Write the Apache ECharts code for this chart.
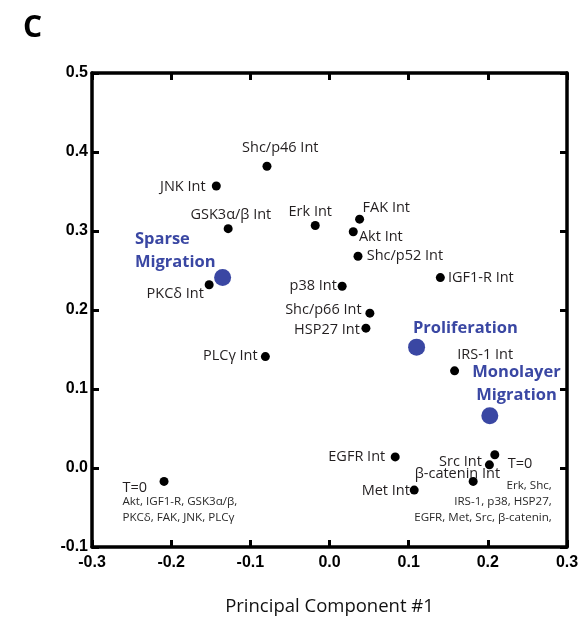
<!DOCTYPE html>
<html>
<head>
<meta charset="utf-8">
<script src="https://cdn.jsdelivr.net/npm/echarts@6/dist/echarts.min.js"></script>
<style>
html,body{margin:0;padding:0;background:#fff;}
#chart{width:583px;height:621px;}
</style>
</head>
<body>
<div id="chart"></div>
<script>
// ---- data ----
const xTicks = [-0.3, -0.2, -0.1, 0.0, 0.1, 0.2, 0.3];
const yTicks = [-0.1, 0.0, 0.1, 0.2, 0.3, 0.4, 0.5];

const signalNames = ['Shc/p46 Int','JNK Int','GSK3α/β Int','Erk Int','PKCδ Int','p38 Int','FAK Int','Akt Int','Shc/p52 Int','IGF1-R Int','Shc/p66 Int','HSP27 Int','PLCγ Int','IRS-1 Int','EGFR Int','Src Int','β-catenin Int','Met Int'];
const signalPC1 = [-0.079,-0.143,-0.128,-0.018,-0.152,0.016,0.038,0.030,0.036,0.140,0.051,0.046,-0.081,0.158,0.083,0.202,0.1815,0.107];
const signalPC2 = [0.382,0.357,0.303,0.307,0.232,0.230,0.315,0.299,0.268,0.241,0.196,0.177,0.141,0.123,0.014,0.004,-0.017,-0.028];

const conditionNames = ['Sparse\nMigration','Proliferation','Monolayer\nMigration'];
const conditionPC1 = [-0.135, 0.110, 0.2025];
const conditionPC2 = [0.241, 0.153, 0.066];

const baselineNames = ['T=0','T=0'];
const baselineNotes = ['Akt, IGF1-R, GSK3α/β,\nPKCδ, FAK, JNK, PLCγ','Erk, Shc,\nIRS-1, p38, HSP27,\nEGFR, Met, Src, β-catenin,'];
const baselinePC1 = [-0.209, 0.2088];
const baselinePC2 = [-0.017, 0.0167];

// ---- label placement (style only) : [align, dx, dy] ----
const signalLabelPlace = {
  'Shc/p46 Int':['center',13.3,-18.7],
  'JNK Int':['right',-10.7,1.3],
  'GSK3α/β Int':['center',2.7,-14],
  'Erk Int':['center',-5,-14],
  'PKCδ Int':['right',-5.3,9],
  'p38 Int':['right',-5.3,0],
  'FAK Int':['left',3,-11],
  'Akt Int':['left',5.7,5],
  'Shc/p52 Int':['left',8.7,-0.6],
  'IGF1-R Int':['left',7.6,0],
  'Shc/p66 Int':['right',-8.3,-3],
  'HSP27 Int':['right',-6,1.7],
  'PLCγ Int':['right',-7.7,-0.6],
  'IRS-1 Int':['left',2.7,-15.7],
  'EGFR Int':['right',-10,0],
  'Src Int':['right',-7.6,-3.3],
  'β-catenin Int':['center',-15.8,-7.7],
  'Met Int':['right',-4.3,0.7]
};
const conditionLabelPlace = [['left',-87.7,-26.8],['left',-3.7,-18.7],['center',26.7,-31.7]];
const baselineTitlePlace = [['left',-41.6,6.6],['left',13,9]];
const baselineNotePlace = [['left',-41.6,28.6],['right',57,46.8]];

const FONT = 'Open Sans';
const TXT = '#231f20';
const BLUE = '#3a47a3';

function lab(place, extra){
  return Object.assign({
    show:true, position:'inside', align:place[0], verticalAlign:'middle',
    offset:[place[1], place[2]], fontFamily:FONT, fontSize:14.5, color:TXT
  }, extra||{});
}

const signalData = signalNames.map((n,i)=>({
  name:n, value:[signalPC1[i], signalPC2[i]],
  label: lab(signalLabelPlace[n], {formatter:n})
}));
const conditionData = conditionNames.map((n,i)=>({
  name:n, value:[conditionPC1[i], conditionPC2[i]],
  label: lab(conditionLabelPlace[i], {formatter:n, color:BLUE, fontSize:16.5, fontWeight:'bold', lineHeight:23})
}));
const baselineData = baselineNames.map((n,i)=>({
  name:n, value:[baselinePC1[i], baselinePC2[i]],
  label: lab(baselineTitlePlace[i], {formatter:n, fontSize:14.5})
}));
const baselineNoteData = baselineNotes.map((n,i)=>({
  name:n, value:[baselinePC1[i], baselinePC2[i]],
  label: lab(baselineNotePlace[i], {formatter:n, fontSize:11.6, lineHeight:16, color:'#2a2a2a'})
}));

const axisCommon = {
  type:'value', splitLine:{show:false},
  axisLine:{show:true, onZero:false, lineStyle:{color:'#000', width:3.5}},
  axisTick:{show:true, inside:true, length:7, lineStyle:{color:'#000', width:3}}
};
const xMin = xTicks[0], xMax = xTicks[xTicks.length-1];
const yMin = yTicks[0], yMax = yTicks[yTicks.length-1];

const option = {
  animation:false,
  title:{text:'C', left:18, top:8, textStyle:{fontFamily:FONT, fontSize:30, fontWeight:'bold', color:'#000'}},
  grid:{left:92, right:16, top:73, bottom:73},
  xAxis:[
    Object.assign({}, axisCommon, {position:'bottom', min:xMin, max:xMax, interval:0.1,
      axisLabel:{show:true, margin:8, fontFamily:'Liberation Sans', fontWeight:'bold', fontSize:16, color:'#000',
        formatter:v=>v.toFixed(1)},
      name:'Principal Component #1', nameLocation:'middle', nameGap:50,
      nameTextStyle:{fontFamily:FONT, fontSize:18.5, fontWeight:500, color:'#111'}}),
    Object.assign({}, axisCommon, {position:'top', min:xMin, max:xMax, interval:0.1, axisLabel:{show:false}})
  ],
  yAxis:[
    Object.assign({}, axisCommon, {position:'left', min:yMin, max:yMax, interval:0.1,
      axisLabel:{show:true, margin:4, fontFamily:'Liberation Sans', fontWeight:'bold', fontSize:16, color:'#000',
        formatter:v=>v.toFixed(1)}}),
    Object.assign({}, axisCommon, {position:'right', min:yMin, max:yMax, interval:0.1, axisLabel:{show:false}})
  ],
  series:[
    {type:'scatter', name:'signals', symbolSize:9, itemStyle:{color:'#000', opacity:1}, data:signalData, emphasis:{disabled:true}, z:3},
    {type:'scatter', name:'conditions', symbolSize:17, itemStyle:{color:BLUE, opacity:1}, data:conditionData, emphasis:{disabled:true}, z:4},
    {type:'scatter', name:'baseline', symbolSize:9, itemStyle:{color:'#000', opacity:1}, data:baselineData, emphasis:{disabled:true}, z:3},
    {type:'scatter', name:'baselineNotes', symbolSize:1, itemStyle:{color:'rgba(0,0,0,0)', opacity:1}, data:baselineNoteData, emphasis:{disabled:true}, z:2}
  ]
};
const chart = echarts.init(document.getElementById('chart'), null, {renderer:'canvas'});
chart.setOption(option);
</script>
</body>
</html>
